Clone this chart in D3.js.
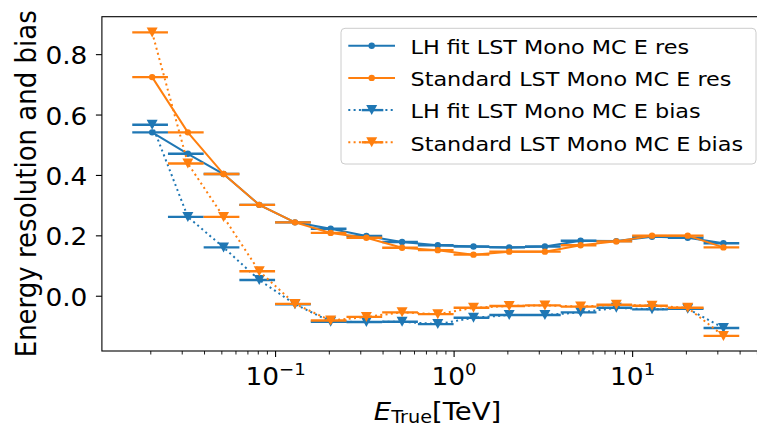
<!DOCTYPE html>
<html>
<head>
<meta charset="utf-8">
<script src="https://cdn.jsdelivr.net/npm/d3@7"></script>
<style>
  html, body { margin: 0; padding: 0; background: #fff; }
  svg { display: block; font-family: "DejaVu Sans", sans-serif; }
</style>
</head>
<body>
<svg id="chart" width="757" height="426"></svg>
<script>
// ---- data ----
const binLow  = [0.01585, 0.02512, 0.03981, 0.0631, 0.1, 0.1585, 0.2512, 0.3981, 0.631, 1.0, 1.585, 2.512, 3.981, 6.31, 10.0, 15.85, 25.12];
const binHigh = [0.02512, 0.03981, 0.0631, 0.1, 0.1585, 0.2512, 0.3981, 0.631, 1.0, 1.585, 2.512, 3.981, 6.31, 10.0, 15.85, 25.12, 39.81];
const lhRes   = [0.541, 0.470, 0.403, 0.301, 0.243, 0.222, 0.198, 0.178, 0.167, 0.163, 0.160, 0.163, 0.182, 0.181, 0.195, 0.192, 0.174];
const stdRes  = [0.724, 0.541, 0.403, 0.301, 0.243, 0.208, 0.192, 0.159, 0.151, 0.136, 0.146, 0.146, 0.167, 0.180, 0.199, 0.199, 0.160];
const lhBias  = [0.566, 0.261, 0.160, 0.052, -0.028, -0.086, -0.087, -0.086, -0.094, -0.073, -0.064, -0.064, -0.055, -0.040, -0.045, -0.043, -0.107];
const stdBias = [0.872, 0.438, 0.261, 0.081, -0.027, -0.082, -0.070, -0.055, -0.061, -0.040, -0.034, -0.032, -0.036, -0.030, -0.033, -0.040, -0.133];
const seriesNames = ["LH fit LST Mono MC E res", "Standard LST Mono MC E res", "LH fit LST Mono MC E bias", "Standard LST Mono MC E bias"];
const yTickValues = [0.0, 0.2, 0.4, 0.6, 0.8];
const yTickLabels = ["0.0", "0.2", "0.4", "0.6", "0.8"];
const xTickValues = [0.1, 1, 10];
const xTickExponents = ["\u22121", "0", "1"];
const xMinorTicks = [0.02,0.03,0.04,0.05,0.06,0.07,0.08,0.09,0.2,0.3,0.4,0.5,0.6,0.7,0.8,0.9,2,3,4,5,6,7,8,9,20,30,40,50];
const yLabel = "Energy resolution and bias";

// ---- layout ----
const SX = 1.1;           // horizontal text stretch seen in reference
const blue = "#1f77b4", orange = "#ff7f0e";
const svg = d3.select("#chart");
svg.append("rect").attr("width", 757).attr("height", 426).attr("fill", "#fff");

const x = d3.scaleLog().domain([Math.pow(10, -1.97), Math.pow(10, 1.77)]).range([101.9, 769.6]);
const y = d3.scaleLinear().domain([-0.183, 0.924]).range([351, 16.7]);

const centers = binLow.map((lo, i) => (lo + binHigh[i]) / 2);

// ---- axes ----
const yAxis = svg.append("g").attr("transform", `translate(${x.range()[0]},0)`)
  .call(d3.axisLeft(y).tickValues(yTickValues).tickSize(6).tickFormat((d, i) => yTickLabels[i]));
yAxis.select(".domain").remove();
yAxis.selectAll(".tick line").attr("stroke", "#000").attr("stroke-width", 1.1);
yAxis.selectAll(".tick text")
  .attr("x", 0).attr("dy", null).attr("y", 0)
  .attr("transform", `translate(-14.5,9.6) scale(${SX},1)`)
  .attr("font-size", 24).attr("fill", "#000").attr("font-family", "DejaVu Sans");

const xAxisMinor = svg.append("g").attr("transform", `translate(0,${y.range()[0]})`)
  .call(d3.axisBottom(x).tickValues(xMinorTicks).tickSize(3.5).tickFormat(() => ""));
xAxisMinor.select(".domain").remove();
xAxisMinor.selectAll(".tick line").attr("stroke", "#000").attr("stroke-width", 0.9);

const xAxis = svg.append("g").attr("transform", `translate(0,${y.range()[0]})`)
  .call(d3.axisBottom(x).tickValues(xTickValues).tickSize(6).tickFormat(() => ""));
xAxis.select(".domain").remove();
xAxis.selectAll(".tick line").attr("stroke", "#000").attr("stroke-width", 1.1);
xAxis.selectAll(".tick text").remove();
xAxis.selectAll(".tick").each(function(d, i) {
  const t = d3.select(this).append("text")
    .attr("transform", `translate(0,34) scale(${SX},1)`)
    .attr("text-anchor", "middle").attr("font-size", 24).attr("fill", "#000")
    .attr("font-family", "DejaVu Sans");
  t.append("tspan").text("10");
  t.append("tspan").attr("dy", -10.5).attr("font-size", 16.5).text(xTickExponents[i]);
});

// frame
svg.append("rect")
  .attr("x", x.range()[0]).attr("y", y.range()[1])
  .attr("width", x.range()[1] - x.range()[0]).attr("height", y.range()[0] - y.range()[1])
  .attr("fill", "none").attr("stroke", "#000").attr("stroke-width", 1.1);

// axis labels
const xl = svg.append("text")
  .attr("transform", `translate(437.5,419.5) scale(${SX},1)`)
  .attr("text-anchor", "middle").attr("font-size", 25).attr("fill", "#000");
xl.append("tspan").attr("font-style", "italic").text("E");
xl.append("tspan").attr("font-size", 17.5).attr("dy", 3.5).text("True");
xl.append("tspan").attr("dy", -3.5).text("[TeV]");

svg.append("text")
  .attr("transform", `translate(35.5,183.8) scale(${SX},1) rotate(-90)`)
  .attr("text-anchor", "middle").attr("font-size", 26).attr("fill", "#000")
  .text(yLabel);

// ---- series ----
const plot = svg.append("g");
const tri = (cx, cy, hw, hh) => `M${cx - hw},${cy - hh}L${cx + hw},${cy - hh}L${cx},${cy + hh}Z`;

function drawSeries(vals, color, kind) {
  const g = plot.append("g");
  const pts = vals.map((v, i) => [x(centers[i]), y(v), x(binLow[i]), x(binHigh[i])]);
  // error bars (bin widths)
  g.selectAll("line.err").data(pts).enter().append("line")
    .attr("x1", d => d[2]).attr("x2", d => d[3])
    .attr("y1", d => d[1]).attr("y2", d => d[1])
    .attr("stroke", color).attr("stroke-width", 2.4);
  // connecting line
  const line = d3.line().x(d => d[0]).y(d => d[1]);
  const p = g.append("path").attr("d", line(pts)).attr("fill", "none")
    .attr("stroke", color).attr("stroke-width", 2);
  if (kind === "bias") p.attr("stroke-dasharray", "2,3.3");
  // markers
  if (kind === "res") {
    g.selectAll("circle").data(pts).enter().append("circle")
      .attr("cx", d => d[0]).attr("cy", d => d[1]).attr("r", 3.2).attr("fill", color);
  } else {
    g.selectAll("path.m").data(pts).enter().append("path")
      .attr("d", d => tri(d[0], d[1], 5.5, 5)).attr("fill", color);
  }
}
drawSeries(lhRes, blue, "res");
drawSeries(stdRes, orange, "res");
drawSeries(lhBias, blue, "bias");
drawSeries(stdBias, orange, "bias");

// ---- legend ----
const lg = svg.append("g");
lg.append("rect").attr("x", 341).attr("y", 28.3).attr("width", 415).attr("height", 135.7)
  .attr("rx", 4).attr("fill", "#fff").attr("fill-opacity", 0.8)
  .attr("stroke", "#cccccc").attr("stroke-width", 1);
const legendItems = [
  {name: seriesNames[0], color: blue, kind: "res"},
  {name: seriesNames[1], color: orange, kind: "res"},
  {name: seriesNames[2], color: blue, kind: "bias"},
  {name: seriesNames[3], color: orange, kind: "bias"}
];
legendItems.forEach((it, i) => {
  const cy = 45.7 + i * 32.2;
  const row = lg.append("g");
  const l = row.append("line").attr("x1", 348.3).attr("x2", 395).attr("y1", cy).attr("y2", cy)
    .attr("stroke", it.color).attr("stroke-width", 2);
  if (it.kind === "bias") {
    l.attr("stroke-dasharray", "2,3.3");
    row.append("line").attr("x1", 361.7).attr("x2", 383.3).attr("y1", cy).attr("y2", cy)
      .attr("stroke", it.color).attr("stroke-width", 2.4);
    row.append("path").attr("d", tri(371.7, cy, 5.5, 5)).attr("fill", it.color);
  } else {
    row.append("circle").attr("cx", 371.7).attr("cy", cy).attr("r", 3.2).attr("fill", it.color);
  }
  row.append("text").attr("transform", `translate(410.5,${cy + 8.3}) scale(${SX},1)`)
    .attr("font-size", 20.3).attr("fill", "#000").text(it.name);
});
</script>
</body>
</html>
